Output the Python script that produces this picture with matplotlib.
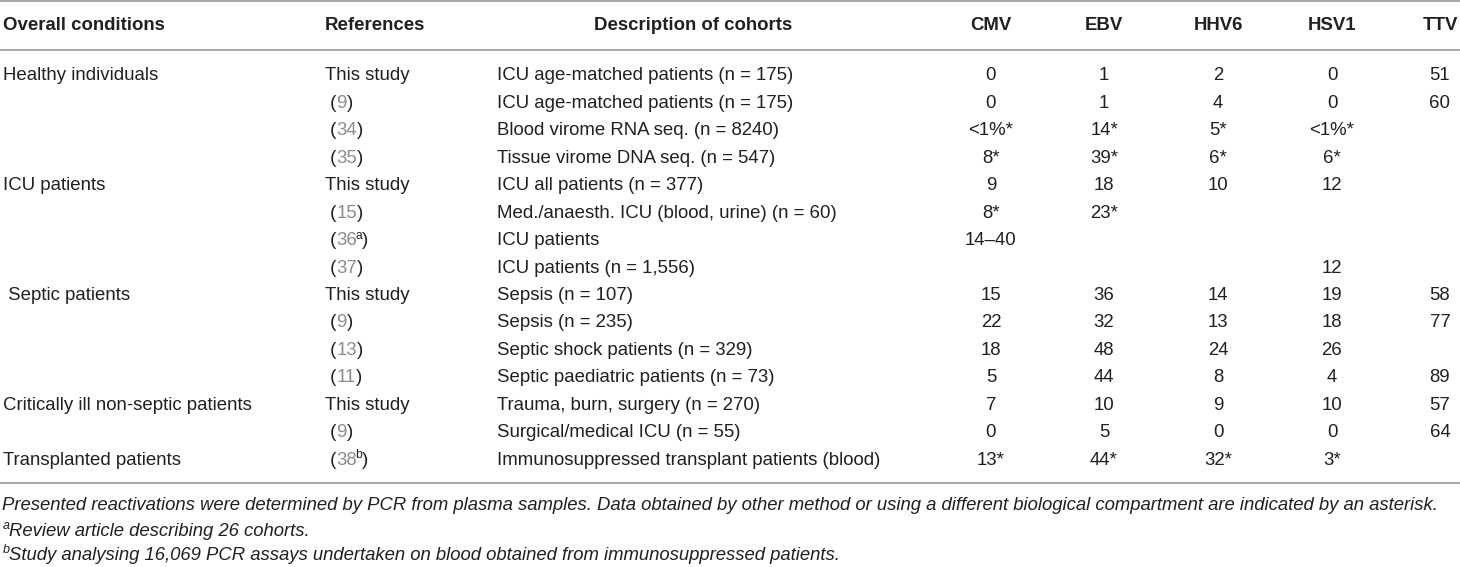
import matplotlib
matplotlib.use("Agg")
import matplotlib.pyplot as plt

plt.rcParams['font.family'] = ['Liberation Sans', 'DejaVu Sans']

# table contents
headers = ["Overall conditions", "References", "Description of cohorts",
           "CMV", "EBV", "HHV6", "HSV1", "TTV"]
conditions = ["Healthy individuals", "", "", "", "ICU patients", "", "", "",
              " Septic patients", "", "", "", "Critically ill non-septic patients", "",
              "Transplanted patients"]
refs = ["This study", "9", "34", "35", "This study", "15", "36", "37",
        "This study", "9", "13", "11", "This study", "9", "38"]
ref_sup = ["", "", "", "", "", "", "a", "", "", "", "", "", "", "", "b"]
cohorts = ["ICU age-matched patients (n = 175)", "ICU age-matched patients (n = 175)",
           "Blood virome RNA seq. (n = 8240)", "Tissue virome DNA seq. (n = 547)",
           "ICU all patients (n = 377)", "Med./anaesth. ICU (blood, urine) (n = 60)",
           "ICU patients", "ICU patients (n = 1,556)", "Sepsis (n = 107)",
           "Sepsis (n = 235)", "Septic shock patients (n = 329)",
           "Septic paediatric patients (n = 73)", "Trauma, burn, surgery (n = 270)",
           "Surgical/medical ICU (n = 55)", "Immunosuppressed transplant patients (blood)"]
cmv = ["0", "0", "<1%*", "8*", "9", "8*", "14–40", "", "15", "22", "18", "5", "7", "0", "13*"]
ebv = ["1", "1", "14*", "39*", "18", "23*", "", "", "36", "32", "48", "44", "10", "5", "44*"]
hhv6 = ["2", "4", "5*", "6*", "10", "", "", "", "14", "13", "24", "8", "9", "0", "32*"]
hsv1 = ["0", "0", "<1%*", "6*", "12", "", "", "12", "19", "18", "26", "4", "10", "0", "3*"]
ttv = ["51", "60", "", "", "", "", "", "", "58", "77", "", "89", "57", "64", ""]
footnotes = ["Presented reactivations were determined by PCR from plasma samples. Data obtained "
             "by other method or using a different biological compartment are indicated by an asterisk.",
             "Review article describing 26 cohorts.",
             "Study analysing 16,069 PCR assays undertaken on blood obtained from immunosuppressed patients."]
foot_marks = ["", "a", "b"]

W, H = 1460, 567
fig = plt.figure(figsize=(W / 100, H / 100), dpi=100)
fig.patch.set_facecolor("white")

TXT = "#231f20"
GREY = "#8c8c8c"
LINE = "#a6a6a6"
FS = 13.4
FS_FOOT = 13.3


def fx(x):
    return x / W


def fy(y):
    return 1 - y / H


def put(x, y, s, **kw):
    kw.setdefault("color", TXT)
    kw.setdefault("fontsize", FS)
    kw.setdefault("va", "center")
    return fig.text(fx(x), fy(y), s, **kw)


renderer = fig.canvas.get_renderer()


def pieces(x, y, parts):
    # parts: (text, color, size, raise_px, style, squeeze_px)
    for s, c, size, up, style, sq in parts:
        x -= sq
        t = put(x, y - up, s, color=c, fontsize=size, style=style)
        bb = t.get_window_extent(renderer)
        x += bb.width


# rules
for yl in [1, 50, 483]:
    fig.add_artist(plt.Line2D([0, 1], [fy(yl), fy(yl)], color=LINE, lw=1.4,
                              transform=fig.transFigure))

# header
hy = 25
put(3, hy, headers[0], fontweight="bold")
put(325, hy, headers[1], fontweight="bold")
put(693, hy, headers[2], fontweight="bold", ha="center")
num_x = [991, 1104, 1218, 1332, 1440]
for h, xc in zip(headers[3:], num_x):
    put(xc, hy, h, fontweight="bold", ha="center")

# body rows
y0, dy = 76, 27.43
cols = [cmv, ebv, hhv6, hsv1, ttv]
for i in range(len(refs)):
    y = y0 + i * dy
    if conditions[i]:
        put(3, y, conditions[i])
    if refs[i] == "This study":
        put(325, y, refs[i])
    else:
        parts = [(" (", TXT, FS, 0, "normal", 0), (refs[i], GREY, FS, 0, "normal", 0)]
        if ref_sup[i]:
            parts.append((ref_sup[i], TXT, FS * 0.65, 5, "normal", 2))
        parts.append((")", TXT, FS, 0, "normal", 0))
        pieces(325, y, parts)
    put(497, y, cohorts[i])
    for col, xc in zip(cols, num_x):
        if col[i]:
            put(xc, y, col[i], ha="center")

# footnotes
foot_y = [505, 531, 555]
for s, m, yy in zip(footnotes, foot_marks, foot_y):
    parts = []
    if m:
        parts.append((m, TXT, FS_FOOT * 0.68, 5, "italic", 0))
    parts.append((s, TXT, FS_FOOT, 0, "italic", 1))
    pieces(3, yy, parts)

fig.savefig("out.png", dpi=100, facecolor="white")
